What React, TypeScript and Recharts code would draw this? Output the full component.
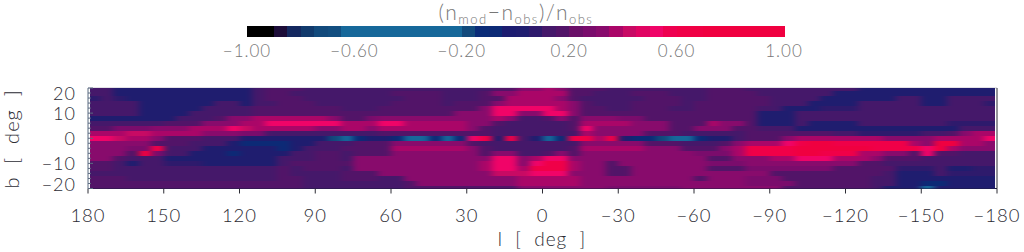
import { ScatterChart, Scatter, XAxis, YAxis } from 'recharts'

const lonTicks = [180, 150, 120, 90, 60, 30, 0, -30, -60, -90, -120, -150, -180]
const latMajor = [20, 10, 0, -10, -20]
const latTicks = [20, 18, 16, 14, 12, 10, 8, 6, 4, 2, 0, -2, -4, -6, -8, -10, -12, -14, -16, -18, -20]
const barTicks = [-1, -0.6, -0.2, 0.2, 0.6, 1]

// one colour per 0.05 step of the ratio, -1 to 1
const bandColors = [
  '#000000', '#000000', '#1c0c38', '#14285f', '#113a6c', '#124a7c', '#124e80',
  '#16689a', '#16689a', '#16689a', '#16689a', '#16689a', '#16689a', '#16689a', '#16689a', '#16689a',
  '#124a7c', '#0a2c78', '#0c2a76', '#1c1c70',
  '#1f1d6f', '#2e1a6c', '#45186a', '#521468', '#6a1068', '#7a0c6c', '#880b6c', '#aa0668', '#c80a64', '#e00462',
  '#f00468', '#ee0050', '#f00048', '#f00044', '#f00040', '#f00040', '#f00040', '#f00040', '#f00040', '#f00040',
]

// percent values, 5 degree columns from l=180 to l=-180
const lat20 = [10,10,0,0,0,0,0,0,0,0,0,0,0,10,20,20,20,10,10,10, 10,10,10,10,10,10,10,10,10,10,10,10,20,20,30,30,40,30,20,20,20,10,10,10,10,10,10, 10,10,20,20,20,10,10,10,10,10,10,10,10,10,0,0,0,0,0,0,0,0,0,0,0]
const lat18 = [10,10,0,0,0,0,0,0,0,0,0,0,0,10,20,20,10,10,10,10, 10,10,10,10,20,20,20,20,10,10,10,20,30,30,40,40,40,40,20,20,10,10,10,20,20,20,10, 10,10,20,20,20,20,10,10,10,10,10,10,0,0,0,0,0,0,0,0,0,0,0,0,0]
const lat16 = [5,10,5,0,0,0,0,0,0,0,0,0,0,10,20,20,20,10,10,10, 10,10,10,10,10,20,20,20,10,10,10,20,20,35,40,40,40,30,20,10,10,10,10,10,20,20,20, 10,10,20,20,20,20,20,10,10,10,10,0,0,0,0,0,0,10,10,0,0,10,10,10,10]
const lat14 = [10,10,10,10,0,0,0,0,0,0,10,10,0,10,10,20,20,20,10,10, 10,10,10,10,20,20,20,20,10,20,20,20,30,40,40,40,40,40,30,20,10,10,10,20,20,20,20, 10,20,20,20,20,20,20,10,10,10,0,0,0,0,10,10,10,10,10,0,0,10,10,10,5]
const lat12 = [10,10,10,10,0,0,0,0,0,10,10,10,10,20,20,20,20,20,20,20, 10,10,10,20,20,20,20,20,20,20,20,30,50,50,50,50,50,40,30,20,20,10,10,20,20,20,10, 10,20,20,20,20,20,10,10,0,0,0,5,5,5,10,10,10,10,10,10,10,10,10,10,10]
const lat10 = [10,10,10,10,0,0,0,0,10,10,10,10,10,20,20,20,20,20,20,20, 20,20,20,20,20,20,20,20,20,30,30,30,50,50,30,30,50,50,30,20,20,20,20,20,20,20,20, 20,20,20,20,20,20,0,0,0,10,10,10,10,10,10,10,10,10,10,10,10,10,10,10,10]
const lat8 = [0,0,0,0,0,0,0,10,10,10,20,30,30,35,35,35,40,40,35,30, 20,20,25,30,30,30,30,30,30,30,30,30,40,30,10,10,20,30,20,30,30,30,25,25,20,20,20, 20,20,20,20,20,20,0,0,0,10,10,10,10,10,10,10,10,10,10,10,10,10,10,10,10]
const lat6 = [10,10,10,10,10,10,20,20,20,30,30,30,40,40,50,50,50,50,50,50, 40,40,40,50,50,40,40,40,40,40,30,30,20,10,10,10,10,10,20,40,40,40,40,30,30,30,20, 20,20,40,30,30,20,0,0,0,10,0,0,0,0,10,10,10,10,10,10,10,5,5,5,5]
const lat4 = [20,20,25,25,25,30,30,30,40,40,40,50,45,40,35,35,40,35,30,30, 35,35,30,35,35,35,35,35,35,40,30,20,10,10,10,10,10,10,20,50,30,30,30,30,30,30,20, 20,30,30,30,20,20,10,10,10,0,0,0,0,0,0,0,0,0,0,0,0,0,10,10,10]
const lat2 = [35,40,40,45,45,40,40,40,35,30,30,30,25,25,15,15,15,10,10,10, 15,10,10,20,20,20,20,20,20,20,20,20,10,10,10,10,10,10,10,40,30,30,30,30,20,20,20, 10,10,10,10,10,20,20,20,20,20,20,20,10,10,5,5,5,5,5,10,10,20,30,40,40]
const lat0 = [50,50,45,40,35,30,20,20,20,10,10,10,0,0,0,0,0,0,0,-20, -40,-5,0,0,-10,-25,-25,-10,-40,-10,50,60,0,60,10,0,-40,-5,60,60,40,60,0,-10,-10,-20,-40, -40,-10,0,0,10,20,20,20,30,35,40,40,40,40,40,40,30,30,30,30,40,40,40,40,50]
const latS2 = [30,30,30,30,30,20,20,20,10,10,10,0,-5,-5,-10,-10,0,0,10,10, 10,20,20,20,30,30,30,30,30,30,20,10,10,10,10,10,10,10,10,30,30,30,30,30,20,20,20, 10,10,10,20,30,40,40,40,50,60,70,70,60,60,60,60,60,60,40,30,70,70,40,40,30]
const latS4 = [30,30,30,25,25,60,10,10,10,0,0,0,0,0,0,-5,0,10,10,10, 20,20,20,20,40,40,40,40,40,40,30,20,10,10,10,10,10,10,20,40,40,40,40,40,30,30,30, 20,20,20,30,40,60,60,60,60,70,70,70,70,70,70,60,60,60,60,50,70,40,30,30,30]
const latS6 = [30,30,30,20,70,25,10,10,0,0,0,-5,0,0,0,0,10,15,20,20, 10,20,20,20,30,30,30,30,30,30,30,20,30,30,10,10,20,30,20,30,30,30,30,30,30,30,30, 30,25,25,25,40,60,60,60,60,70,70,60,60,60,40,40,30,30,20,50,20,20,15,10,10]
const latS8 = [30,30,20,10,10,10,0,0,0,0,0,0,0,0,0,10,10,10,20,20, 10,30,30,30,30,30,30,30,30,30,30,30,50,50,30,40,50,50,30,30,30,30,30,30,30,30,30, 30,30,20,20,30,30,30,40,40,50,50,50,40,40,40,30,20,20,20,15,15,10,10,10,10]
const latS10 = [20,20,10,0,10,10,5,5,5,0,0,0,0,0,0,10,20,20,20,20, 20,30,30,30,30,30,30,30,30,30,30,40,50,50,30,50,60,60,40,30,30,20,30,30,30,30,30, 30,30,25,25,25,30,30,30,30,30,30,30,30,30,20,20,10,10,10,10,10,10,10,10,10]
const latS12 = [20,20,10,10,10,10,10,10,10,10,10,10,10,10,10,20,10,20,20,20, 15,30,30,30,30,30,30,30,30,30,30,40,50,50,40,60,60,60,40,30,30,20,20,30,30,30,30, 30,30,20,20,20,25,25,25,25,25,25,25,20,20,20,20,20,5,5,5,10,0,0,5,5]
const latS14 = [10,10,10,10,10,10,10,10,10,10,10,10,10,10,10,20,10,10,10,10, 20,20,20,30,30,30,30,30,30,30,30,30,45,45,45,50,50,50,30,30,30,20,20,30,30,30,30, 30,30,30,30,30,30,30,20,20,20,20,20,20,20,20,20,10,0,0,0,10,5,5,5,5]
const latS16 = [20,20,20,10,10,10,10,10,10,10,10,10,10,10,10,20,20,10,10,10, 20,20,20,10,10,30,30,30,30,30,30,30,30,30,40,40,40,40,40,30,30,30,30,30,30,30,30, 30,20,30,30,30,25,25,25,20,20,20,20,20,20,20,10,10,0,0,0,0,0,0,0,0]
const latS18 = [20,20,20,20,20,20,20,20,20,20,20,20,20,20,20,20,20,10,10,10, 15,15,15,10,10,20,30,30,30,30,30,30,30,30,35,35,35,35,35,30,30,30,30,30,30,30,30, 30,30,30,30,30,25,25,25,25,20,20,20,20,20,20,10,10,0,0,-10,-10,0,0,0,0]
const latS20 = [20,20,20,20,20,20,20,20,20,20,20,20,20,20,20,20,20,10,10,10, 10,10,10,10,10,20,20,20,20,20,20,20,20,20,30,30,30,30,30,30,30,25,25,25,25,25,25, 30,30,30,30,30,30,30,30,20,20,20,20,20,20,20,10,0,0,0,-40,0,0,0,0,0]

const latRows = [lat20, lat18, lat16, lat14, lat12, lat10, lat8, lat6, lat4, lat2, lat0, latS2, latS4, latS6, latS8, latS10, latS12, latS14, latS16, latS18, latS20]

const W = 1024
const H = 252
const PLOT_W = 909
const PLOT_H = 100.5
const COL_W = (PLOT_W / 360) * 5
const ROW_H = (PLOT_H / 40) * 2
const BAR_W = 537
const BAR_H = 11
const BLEED = 16
const INK = '#2c2c34'
const FONT = 'Lato, "Open Sans", sans-serif'

const colorOf = (pct: number) => {
  const i = Math.floor((pct / 100 + 1) / 0.05)
  return bandColors[Math.min(Math.max(i, 0), bandColors.length - 1)]
}

const minus = (s: string) => s.replace('-', '\u2212')

const mapCells = latRows.flatMap((row, r) =>
  row.map((v, c) => ({ l: 180 - 2.5 - 5 * c, b: latTicks[r], v, col: c })),
)

const barCells = bandColors.map((color, i) => ({ x: -1 + 0.025 + i * 0.05, y: 0, color }))

function HeatCell(props: any) {
  const { cx, cy, payload } = props
  // outer cells run past the frame so the smear does not fade at the edges, the clip trims them
  const left = cx - COL_W / 2 - (payload.col === 0 ? BLEED : 0)
  const right = cx + COL_W / 2 + (payload.col === 71 ? BLEED : 0)
  const top = cy - ROW_H / 2 - (payload.b === 20 ? BLEED : 0)
  const bottom = cy + ROW_H / 2 + (payload.b === -20 ? BLEED : 0)
  return <rect x={left} y={top} width={right - left} height={bottom - top} fill={colorOf(payload.v)} shapeRendering="crispEdges" />
}

function BarCell(props: any) {
  const { cx, cy, payload } = props
  return <rect x={cx - BAR_W / 80} y={cy - BAR_H / 2} width={BAR_W / 40 + 0.6} height={BAR_H} fill={payload.color} shapeRendering="crispEdges" />
}

function LonTick(props: any) {
  const { x, y, payload, up } = props
  if (up) return <line x1={x} x2={x} y1={y} y2={y - 4} stroke={INK} strokeWidth={1} />
  return (
    <g>
      <line x1={x} x2={x} y1={y} y2={y + 5} stroke={INK} strokeWidth={1} />
      <text x={x} y={y + 33} textAnchor="middle" fontFamily={FONT} fontSize={18.5} fontWeight={300} fill={INK} letterSpacing={1}>
        {minus(String(payload.value))}
      </text>
    </g>
  )
}

function LatTick(props: any) {
  const { x, y, payload, right } = props
  const major = latMajor.includes(payload.value)
  const len = major ? 5 : 3
  if (right) return <line x1={x} x2={x + len} y1={y} y2={y} stroke={INK} strokeWidth={1} />
  const shift = payload.value === 20 ? 5 : payload.value === -20 ? -5 : 0
  return (
    <g>
      <line x1={x} x2={x + len} y1={y} y2={y} stroke="#5a6a80" strokeWidth={1} />
      {major && (
        <text x={x - 12} y={y + 7 + shift} textAnchor="end" fontFamily={FONT} fontSize={18} fontWeight={300} fill={INK} letterSpacing={1}>
          {minus(String(payload.value))}
        </text>
      )}
    </g>
  )
}

function BarTick(props: any) {
  const { x, y, payload } = props
  return (
    <text x={x} y={y + 20} textAnchor="middle" fontFamily={FONT} fontSize={17} fontWeight={300} fill="#777" letterSpacing={1}>
      {minus(payload.value.toFixed(2))}
    </text>
  )
}

export default function App() {
  return (
    <div style={{ position: 'absolute', left: 0, top: 0, width: W, height: H, overflow: 'hidden', background: '#fff' }}>
      <style>{`.heat { filter: url(#smear); clip-path: url(#plotClip); }`}</style>
      <div style={{ position: 'absolute', left: 0, top: 0 }}>
        <ScatterChart width={W} height={H} margin={{ top: 80, right: 0, bottom: 23.5, left: 48 }}>
          <defs>
            <filter id="smear" filterUnits="userSpaceOnUse" x={0} y={0} width={W} height={H} colorInterpolationFilters="sRGB">
              <feGaussianBlur stdDeviation="3.5 0.7" />
            </filter>
            <clipPath id="plotClip">
              <rect x={90} y={88} width={905} height={PLOT_H} />
            </clipPath>
          </defs>
          <XAxis xAxisId="bottom" type="number" dataKey="l" domain={[-180, 180]} reversed ticks={lonTicks} interval={0} height={40} stroke="#1c1c40" tickLine={false} tickSize={0} tickMargin={0} tick={<LonTick />} />
          <XAxis xAxisId="top" orientation="top" type="number" dataKey="l" domain={[-180, 180]} reversed ticks={lonTicks} interval={0} height={8} stroke="#c4c4cc" tickLine={false} tickSize={0} tickMargin={0} tick={<LonTick up />} />
          <YAxis yAxisId="left" type="number" dataKey="b" domain={[-20, 20]} ticks={latTicks} interval={0} width={40} stroke="#5a6a80" tickLine={false} tickSize={0} tickMargin={0} tick={<LatTick />} />
          <YAxis yAxisId="right" orientation="right" type="number" dataKey="b" domain={[-20, 20]} ticks={latTicks} interval={0} width={27} stroke={INK} tickLine={false} tickSize={0} tickMargin={0} tick={<LatTick right />} />
          <Scatter className="heat" data={mapCells} xAxisId="bottom" yAxisId="left" shape={<HeatCell />} isAnimationActive={false} />
          <text x={542} y={246} textAnchor="middle" fontFamily={FONT} fontSize={19} fontWeight={300} fill={INK} letterSpacing={1} xmlSpace="preserve">
            l  [  deg  ]
          </text>
          <text transform="translate(19,139) rotate(-90)" textAnchor="middle" fontFamily={FONT} fontSize={20} fontWeight={300} fill={INK} letterSpacing={1} xmlSpace="preserve">
            b  [  deg  ]
          </text>
        </ScatterChart>
      </div>
      <div style={{ position: 'absolute', left: 0, top: 0 }}>
        <ScatterChart width={W} height={62} margin={{ top: 26, right: 240, bottom: 0, left: 247 }}>
          <XAxis type="number" dataKey="x" domain={[-1, 1]} ticks={barTicks} interval={0} height={25} axisLine={false} tickLine={false} tickSize={0} tickMargin={0} tick={<BarTick />} />
          <YAxis type="number" dataKey="y" domain={[-1, 1]} hide />
          <Scatter data={barCells} shape={<BarCell />} isAnimationActive={false} />
          <text x={516} y={20} textAnchor="middle" fontFamily={FONT} fontSize={21} fontWeight={300} fill="#777" letterSpacing={1.5}>
            (n<tspan fontSize={13} dy={4}>mod</tspan>
            <tspan dy={-4}>{'\u2212'}n</tspan>
            <tspan fontSize={13} dy={4}>obs</tspan>
            <tspan dy={-4}>)/n</tspan>
            <tspan fontSize={13} dy={4}>obs</tspan>
          </text>
        </ScatterChart>
      </div>
    </div>
  )
}
